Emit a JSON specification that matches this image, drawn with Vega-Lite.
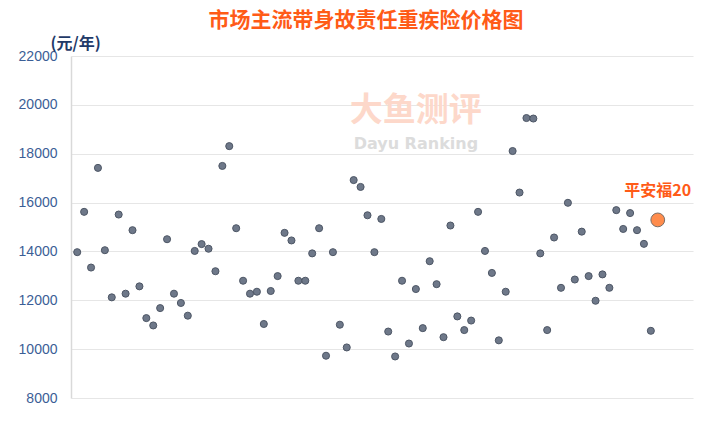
{
  "$schema": "https://vega.github.io/schema/vega-lite/v6.json",
  "autosize": "none",
  "width": 622,
  "height": 342,
  "padding": {"left": 71, "top": 56, "right": 27, "bottom": 25},
  "background": "white",
  "config": {"view": {"stroke": null}, "font": "Noto Sans CJK SC"},
  "title": {
    "text": "市场主流带身故责任重疾险价格图",
    "fontSize": 21,
    "fontWeight": "bold",
    "color": "#FF5B17",
    "font": "Noto Sans CJK SC",
    "anchor": "middle",
    "dx": -16,
    "offset": 4
  },
  "data": {
    "values": [
      {"i": 1, "v": 13970, "g": "其他"},
      {"i": 2, "v": 15620, "g": "其他"},
      {"i": 3, "v": 13340, "g": "其他"},
      {"i": 4, "v": 17420, "g": "其他"},
      {"i": 5, "v": 14050, "g": "其他"},
      {"i": 6, "v": 12120, "g": "其他"},
      {"i": 7, "v": 15510, "g": "其他"},
      {"i": 8, "v": 12270, "g": "其他"},
      {"i": 9, "v": 14870, "g": "其他"},
      {"i": 10, "v": 12570, "g": "其他"},
      {"i": 11, "v": 11270, "g": "其他"},
      {"i": 12, "v": 10970, "g": "其他"},
      {"i": 13, "v": 11680, "g": "其他"},
      {"i": 14, "v": 14500, "g": "其他"},
      {"i": 15, "v": 12270, "g": "其他"},
      {"i": 16, "v": 11890, "g": "其他"},
      {"i": 17, "v": 11370, "g": "其他"},
      {"i": 18, "v": 14020, "g": "其他"},
      {"i": 19, "v": 14300, "g": "其他"},
      {"i": 20, "v": 14110, "g": "其他"},
      {"i": 21, "v": 13190, "g": "其他"},
      {"i": 22, "v": 17500, "g": "其他"},
      {"i": 23, "v": 18310, "g": "其他"},
      {"i": 24, "v": 14950, "g": "其他"},
      {"i": 25, "v": 12800, "g": "其他"},
      {"i": 26, "v": 12270, "g": "其他"},
      {"i": 27, "v": 12350, "g": "其他"},
      {"i": 28, "v": 11030, "g": "其他"},
      {"i": 29, "v": 12380, "g": "其他"},
      {"i": 30, "v": 12990, "g": "其他"},
      {"i": 31, "v": 14760, "g": "其他"},
      {"i": 32, "v": 14450, "g": "其他"},
      {"i": 33, "v": 12800, "g": "其他"},
      {"i": 34, "v": 12800, "g": "其他"},
      {"i": 35, "v": 13920, "g": "其他"},
      {"i": 36, "v": 14950, "g": "其他"},
      {"i": 37, "v": 9730, "g": "其他"},
      {"i": 38, "v": 13970, "g": "其他"},
      {"i": 39, "v": 11000, "g": "其他"},
      {"i": 40, "v": 10070, "g": "其他"},
      {"i": 41, "v": 16920, "g": "其他"},
      {"i": 42, "v": 16640, "g": "其他"},
      {"i": 43, "v": 15480, "g": "其他"},
      {"i": 44, "v": 13970, "g": "其他"},
      {"i": 45, "v": 15330, "g": "其他"},
      {"i": 46, "v": 10720, "g": "其他"},
      {"i": 47, "v": 9700, "g": "其他"},
      {"i": 48, "v": 12800, "g": "其他"},
      {"i": 49, "v": 10230, "g": "其他"},
      {"i": 50, "v": 12460, "g": "其他"},
      {"i": 51, "v": 10860, "g": "其他"},
      {"i": 52, "v": 13600, "g": "其他"},
      {"i": 53, "v": 12660, "g": "其他"},
      {"i": 54, "v": 10490, "g": "其他"},
      {"i": 55, "v": 15060, "g": "其他"},
      {"i": 56, "v": 11340, "g": "其他"},
      {"i": 57, "v": 10780, "g": "其他"},
      {"i": 58, "v": 11170, "g": "其他"},
      {"i": 59, "v": 15620, "g": "其他"},
      {"i": 60, "v": 14020, "g": "其他"},
      {"i": 61, "v": 13120, "g": "其他"},
      {"i": 62, "v": 10360, "g": "其他"},
      {"i": 63, "v": 12350, "g": "其他"},
      {"i": 64, "v": 18110, "g": "其他"},
      {"i": 65, "v": 16410, "g": "其他"},
      {"i": 66, "v": 19460, "g": "其他"},
      {"i": 67, "v": 19440, "g": "其他"},
      {"i": 68, "v": 13920, "g": "其他"},
      {"i": 69, "v": 10780, "g": "其他"},
      {"i": 70, "v": 14570, "g": "其他"},
      {"i": 71, "v": 12510, "g": "其他"},
      {"i": 72, "v": 15990, "g": "其他"},
      {"i": 73, "v": 12850, "g": "其他"},
      {"i": 74, "v": 14810, "g": "其他"},
      {"i": 75, "v": 12990, "g": "其他"},
      {"i": 76, "v": 11980, "g": "其他"},
      {"i": 77, "v": 13060, "g": "其他"},
      {"i": 78, "v": 12510, "g": "其他"},
      {"i": 79, "v": 15690, "g": "其他"},
      {"i": 80, "v": 14920, "g": "其他"},
      {"i": 81, "v": 15570, "g": "其他"},
      {"i": 82, "v": 14870, "g": "其他"},
      {"i": 83, "v": 14310, "g": "其他"},
      {"i": 84, "v": 10750, "g": "其他"},
      {"i": 85, "v": 15290, "g": "平安福20"}
    ]
  },
  "encoding": {
    "x": {"field": "i", "type": "quantitative", "scale": {"domain": [0.1, 90.1], "nice": false, "zero": false}, "axis": null},
    "y": {
      "field": "v",
      "type": "quantitative",
      "scale": {"domain": [8000, 22000], "nice": false, "zero": false},
      "axis": {
        "values": [8000, 10000, 12000, 14000, 16000, 18000, 20000, 22000],
        "format": "d",
        "ticks": false,
        "domain": true,
        "domainColor": "#D9D9D9",
        "domainWidth": 1.5,
        "grid": true,
        "gridColor": "#E6E6E6",
        "gridWidth": 1.2,
        "labelColor": "#3B5E96",
        "labelFont": "Liberation Sans",
        "labelFontSize": 14,
        "labelPadding": 14,
        "title": "(元/年)",
        "titleAngle": 0,
        "titleAlign": "left",
        "titleBaseline": "middle",
        "titleX": -21,
        "titleY": -13,
        "titleColor": "#1F3A68",
        "titleFont": "Noto Sans CJK SC",
        "titleFontSize": 16,
        "titleFontWeight": "bold"
      }
    }
  },
  "layer": [
    {
      "transform": [{"filter": "datum.i === 1"}],
      "mark": {"type": "text", "font": "Noto Sans CJK SC", "fontWeight": "bold", "fontSize": 33, "color": "#FDD8CA", "align": "center", "baseline": "middle"},
      "encoding": {"x": {"datum": 50}, "y": {"datum": 19750}, "text": {"value": "大鱼测评"}}
    },
    {
      "transform": [{"filter": "datum.i === 1"}],
      "mark": {"type": "text", "font": "DejaVu Sans", "fontWeight": "bold", "fontSize": 16, "color": "#DCDCDC", "align": "center", "baseline": "middle"},
      "encoding": {"x": {"datum": 50}, "y": {"datum": 18400}, "text": {"value": "Dayu  Ranking"}}
    },
    {
      "mark": {"type": "point", "filled": true, "opacity": 1, "strokeWidth": 1},
      "encoding": {
        "color": {"field": "g", "type": "nominal", "scale": {"domain": ["其他", "平安福20"], "range": ["#6E7889", "#FF8C4C"]}, "legend": null},
        "stroke": {"field": "g", "type": "nominal", "scale": {"domain": ["其他", "平安福20"], "range": ["#4D5665", "#7A6E66"]}, "legend": null},
        "size": {"field": "g", "type": "nominal", "scale": {"domain": ["其他", "平安福20"], "range": [50, 190]}, "legend": null}
      }
    },
    {
      "transform": [{"filter": "datum.g === '平安福20'"}],
      "mark": {"type": "text", "font": "Noto Sans CJK SC", "fontWeight": "bold", "fontSize": 16, "color": "#FF5B17", "align": "center", "baseline": "middle", "dy": -29},
      "encoding": {"text": {"field": "g"}}
    }
  ]
}
